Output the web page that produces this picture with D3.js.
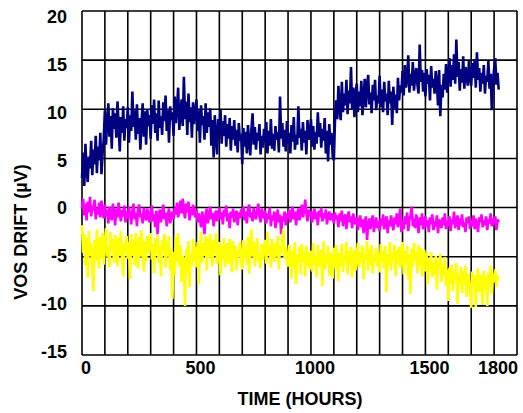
<!DOCTYPE html>
<html>
<head>
<meta charset="utf-8">
<script src="https://cdn.jsdelivr.net/npm/d3@7/dist/d3.min.js"></script>
<style>
    body { margin: 0; background: #fff; }
    svg text { font-family: "Liberation Sans", Arial, sans-serif; font-weight: bold; fill: #000; }
</style>
</head>
<body>
<svg id="chart" width="523" height="413"></svg>
<script>
// readings every 5 hours, 0 .. 1820 h (one row = 100 h)
const step = 5;

const unitA = [
    3.0, 5.6, 2.2, 6.5, 3.8, 2.6, 5.2, 4.0, 6.8, 3.3, 5.9, 4.4, 7.3, 3.5, 6.2, 4.8, 7.6, 3.4, 5.5, 7.0,
    9.9, 6.4, 8.8, 10.6, 7.2, 9.3, 6.0, 10.1, 8.0, 9.6, 7.1, 10.8, 8.4, 5.7, 9.2, 7.6, 10.3, 6.8, 9.0, 8.1,
    10.2, 6.6, 9.4, 7.8, 11.8, 8.2, 9.9, 6.9, 10.5, 7.5, 9.1, 5.9, 8.7, 10.6, 7.2, 9.8, 6.4, 10.0, 8.3, 9.4,
    7.0, 10.4, 8.5, 11.0, 7.6, 9.6, 6.8, 10.9, 8.1, 9.3, 7.4, 10.7, 8.8, 11.4, 7.8, 9.9, 6.6, 10.3, 8.9, 9.7,
    7.3, 11.3, 8.6, 10.1, 12.2, 7.9, 9.5, 11.0, 8.3, 13.3, 9.0, 10.8, 7.4, 11.6, 8.7, 10.2, 7.1, 10.7, 8.5, 9.8,
    11.0, 7.8, 9.9, 6.6, 10.4, 8.4, 9.3, 6.9, 10.6, 7.6, 9.7, 8.2, 10.1, 6.3, 8.9, 5.1, 9.4, 7.2, 5.4, 9.0,
    7.7, 10.0, 6.5, 8.8, 7.3, 9.4, 6.2, 8.5, 7.0, 9.1, 5.8, 8.3, 6.9, 8.9, 6.3, 7.9, 5.6, 8.6, 6.8, 7.5,
    4.4, 8.1, 6.2, 7.7, 5.5, 8.4, 6.7, 5.3, 7.9, 9.6, 6.4, 8.2, 5.9, 7.6, 6.8, 8.5, 5.4, 7.3, 6.1, 8.0,
    6.6, 8.7, 5.5, 7.8, 6.3, 9.0, 6.0, 7.5, 5.8, 8.3, 6.9, 7.7, 5.6, 11.3, 7.0, 8.6, 6.2, 7.9, 5.7, 8.8,
    6.5, 7.6, 5.5, 8.4, 6.7, 9.2, 5.9, 7.4, 6.4, 10.3, 7.1, 8.0, 5.8, 8.7, 6.6, 7.8, 5.4, 8.9, 6.9, 7.5,
    9.0, 6.2, 8.3, 5.9, 7.7, 6.5, 9.7, 7.2, 8.6, 6.1, 8.0, 6.8, 9.1, 5.5, 7.8, 4.7, 8.5, 6.4, 7.6, 5.2,
    4.8, 8.8, 10.9, 9.0, 12.4, 10.1, 8.9, 12.8, 9.7, 11.6, 10.4, 13.0, 9.5, 11.9, 10.6, 14.3, 10.0, 12.2, 9.2, 11.5,
    12.6, 9.7, 11.8, 10.3, 12.9, 9.4, 11.2, 13.1, 10.2, 12.3, 13.5, 10.5, 11.7, 9.6, 12.5, 10.9, 13.0, 9.9, 11.4, 10.6,
    13.4, 10.2, 12.0, 9.7, 12.8, 10.8, 11.6, 9.4, 12.9, 10.6, 11.8, 8.4, 12.3, 10.1, 11.5, 9.6, 13.2, 10.9, 12.4, 11.7,
    13.9, 11.4, 14.5, 12.2, 13.0, 15.5, 11.7, 13.6, 12.4, 14.8, 11.9, 13.3, 14.2, 12.5, 11.6, 16.6, 12.8, 14.0, 11.8, 13.7,
    11.3, 14.1, 12.6, 13.5, 10.9, 14.4, 12.2, 13.1, 11.6, 13.9, 12.8, 10.4, 14.0, 9.3, 12.5, 11.2, 13.6, 12.0, 14.6, 11.7,
    13.4, 15.2, 12.3, 14.5, 13.0, 15.6, 12.6, 17.1, 13.3, 14.8, 11.9, 14.1, 12.7, 15.4, 12.1, 14.3, 13.5, 12.4, 14.9, 13.1,
    12.4, 14.7, 13.2, 15.1, 12.2, 15.8, 13.0, 14.2, 11.8, 13.7, 12.6, 14.5, 11.6, 13.4, 12.8, 14.9, 12.1, 13.6, 9.9, 12.9,
    14.1, 15.2, 12.5, 13.7, 12.0
];

const unitB = [
    -0.1, 0.9, -0.8, 0.4, -1.3, 0.6, -0.5, 1.1, -0.9, 0.2, -0.3, 0.8, -1.2, 0.0, -0.7, 0.5, -1.0, 0.7, -0.4, -1.1,
    0.3, -0.9, -0.2, -1.6, 0.1, -0.7, -1.3, 0.4, -0.5, -1.8, -0.1, -1.0, 0.5, -0.6, -1.4, -0.2, -0.9, 0.2, -1.5, -0.4,
    -1.1, 0.1, -0.8, -1.7, -0.3, 0.4, -1.2, -0.5, -1.9, -0.2, 0.3, -1.0, -0.6, -1.6, 0.0, -0.8, -1.3, -0.1, -0.9, -1.5,
    -0.4, 0.2, -1.4, -0.7, -2.0, -0.3, -2.7, -0.9, -0.2, -1.5, -0.6, 0.3, -1.2, -0.5, -1.9, -0.8, -0.1, -1.6, -1.0, -0.4,
    -1.2, 0.0, -0.7, 0.5, -1.0, -0.2, 0.7, -0.6, 0.9, -0.3, -1.1, 0.4, -0.5, 0.6, -1.3, -0.1, -0.8, 0.3, -0.4, -1.0,
    -0.2, -1.5, -0.6, -1.1, -2.0, -0.4, -1.3, -2.7, -0.7, -0.1, -1.6, -0.8, 0.1, -1.2, -0.5, -1.9, -0.9, -0.3, -1.4, -0.6,
    0.0, -1.2, -0.5, -1.7, -0.2, -0.9, 0.2, -1.4, -0.6, -2.1, -0.4, -1.0, -0.1, -1.5, -0.7, -0.3, -1.8, -0.5, -1.1, -0.2,
    -0.9, 0.1, -1.3, -0.4, -1.6, -0.2, 0.3, -1.0, -0.5, -1.4, 0.0, -0.8, -1.2, -0.3, 0.4, -0.9, -1.5, -0.1, -0.7, -1.1,
    -0.3, -1.6, -0.6, -1.2, 0.0, -1.9, -0.8, -1.3, -0.4, -2.1, -1.0, -0.2, -1.5, -0.7, -2.7, -0.9, -1.4, -0.4, -1.8, -0.6,
    -1.1, -0.2, -1.5, -0.6, 0.1, -1.2, -0.4, -1.8, -0.7, -0.1, -1.3, -0.5, 0.3, -1.0, -0.3, 0.8, -0.6, -1.4, -0.2, -0.9,
    -0.4, -1.5, -0.7, -0.1, -1.2, -0.5, -1.8, -0.3, -1.0, 0.0, -1.4, -0.6, -1.1, -0.2, -1.7, -0.8, -0.4, -1.3, -0.6, -1.0,
    -1.6, -0.5, -1.2, -0.8, -2.0, -0.6, -1.4, -0.3, -1.9, -1.0, -0.7, -2.2, -1.1, -0.4, -1.5, -0.9, -2.1, -0.6, -1.3, -1.7,
    -1.0, -2.3, -1.4, -0.8, -2.0, -1.2, -2.6, -1.5, -0.9, -3.3, -1.7, -1.1, -2.2, -1.3, -0.8, -2.5, -1.6, -1.0, -2.1, -1.4,
    -2.4, -1.1, -1.8, -0.7, -2.2, -1.4, -0.9, -2.6, -1.3, -1.9, -0.8, -1.6, -2.3, -1.0, -1.7, -0.6, -2.0, -1.2, -0.1, -2.5,
    -1.3, -2.2, -0.9, -1.7, -0.5, -2.4, -1.2, -0.8, 0.1, -1.9, -1.1, -2.1, -0.7, -1.5, -2.6, -1.0, -1.8, -0.6, -2.2, -1.4,
    -0.9, -2.0, -1.3, -2.5, -1.0, -1.7, -0.7, -2.3, -1.4, -1.9, -0.8, -2.6, -1.2, -1.6, -2.1, -1.0, -1.8, -0.6, -2.2, -1.3,
    -1.9, -0.9, -2.4, -1.2, -1.7, -0.4, -2.1, -1.4, -0.8, -2.3, -1.1, -1.8, -0.7, -2.0, -1.5, -2.5, -1.0, -1.6, -0.9, -2.2,
    -1.3, -1.9, -0.8, -2.2, -1.1, -1.7, -2.5, -1.0, -1.5, -0.7, -2.0, -1.3, -1.8, -0.9, -2.3, -1.2, -1.6, -0.6, -1.9, -1.1,
    -1.7, -0.9, -2.3, -1.2, -1.5
];

const unitC = [
    -1.8, -4.6, -2.7, -5.9, -3.1, -7.1, -2.4, -4.9, -3.6, -6.3, -8.5, -3.3, -5.4, -2.2, -4.7, -6.2, -3.0, -5.1, -2.6, -5.8,
    -3.4, -2.1, -5.0, -3.9, -6.1, -2.5, -4.3, -3.2, -5.6, -2.8, -4.0, -6.0, -3.1, -4.9, -2.4, -5.3, -7.0, -3.6, -4.4, -2.9,
    -5.2, -3.5, -7.3, -2.7, -4.8, -3.3, -5.9, -2.6, -4.4, -6.2, -3.0, -5.0, -2.3, -4.1, -6.5, -3.4, -5.5, -2.9, -4.6, -3.8,
    -2.6, -5.3, -3.7, -6.7, -3.1, -4.8, -2.8, -5.6, -3.9, -7.0, -3.3, -4.5, -2.7, -6.1, -3.5, -5.0, -2.9, -6.4, -4.2, -9.3,
    -4.5, -6.8, -3.0, -5.5, -2.6, -6.0, -3.8, -7.6, -4.9, -5.8, -10.0, -4.2, -6.6, -3.4, -8.1, -4.7, -6.0, -3.2, -5.4, -4.0,
    -6.1, -3.5, -7.8, -4.4, -2.5, -5.6, -3.6, -4.9, -2.9, -6.4, -3.2, -5.1, -2.7, -4.5, -6.0, -3.3, -4.8, -2.6, -5.7, -4.1,
    -3.5, -6.9, -4.0, -5.3, -3.1, -6.1, -4.5, -3.6, -5.7, -3.2, -4.8, -6.6, -3.4, -5.2, -3.9, -6.4, -4.3, -5.0, -3.5, -5.6,
    -6.3, -3.3, -5.1, -4.2, -5.8, -3.0, -6.7, -4.0, -2.2, -5.0, -3.5, -6.0, -4.4, -3.1, -5.5, -4.6, -6.2, -3.7, -5.3, -4.1,
    -3.3, -5.7, -2.5, -4.8, -3.9, -6.1, -3.2, -4.6, -5.5, -3.6, -5.0, -2.9, -6.3, -3.8, -4.7, -3.1, -2.2, -5.2, -4.0, -5.6,
    -6.0, -3.8, -5.3, -7.2, -4.3, -6.1, -3.5, -7.8, -4.8, -5.6, -4.0, -6.8, -3.7, -5.5, -4.5, -7.0, -3.9, -5.9, -4.6, -6.3,
    -4.4, -6.5, -3.6, -5.8, -4.9, -7.1, -3.8, -6.0, -5.2, -4.3, -8.0, -3.4, -6.3, -4.8, -5.7, -3.9, -6.9, -4.6, -5.4, -7.2,
    -4.1, -6.2, -3.8, -5.5, -7.5, -4.6, -5.9, -3.7, -6.6, -4.9, -5.4, -3.5, -6.8, -4.4, -5.8, -4.0, -7.1, -5.1, -4.3, -6.4,
    -5.0, -3.6, -6.1, -4.5, -5.6, -3.9, -7.3, -4.7, -5.3, -3.4, -6.4, -4.2, -5.8, -3.8, -6.7, -4.9, -5.5, -4.1, -6.0, -4.6,
    -6.6, -3.7, -5.5, -4.4, -6.2, -3.9, -8.6, -4.8, -5.9, -3.5, -6.4, -4.6, -5.3, -3.8, -7.0, -4.3, -5.7, -4.0, -6.1, -4.7,
    -3.5, -6.8, -4.4, -5.7, -3.9, -7.3, -4.8, -8.8, -4.2, -6.0, -3.6, -5.4, -4.5, -6.7, -3.8, -5.9, -4.1, -7.0, -5.0, -4.3,
    -6.5, -4.6, -7.8, -5.3, -6.4, -4.5, -7.1, -5.6, -6.8, -4.9, -8.3, -5.4, -6.2, -4.7, -7.6, -5.8, -6.9, -5.0, -8.0, -6.3,
    -9.5, -6.1, -7.8, -5.8, -8.5, -6.6, -7.3, -5.6, -9.8, -6.9, -7.6, -6.0, -8.7, -6.4, -7.9, -5.9, -9.1, -6.7, -7.4, -8.4,
    -10.2, -6.5, -8.0, -6.9, -10.1, -7.3, -6.2, -8.6, -6.8, -7.7, -9.9, -6.4, -8.3, -7.0, -10.0, -6.6, -7.9, -5.9, -8.8, -6.7,
    -7.6, -6.3, -8.1, -6.9, -7.3
];

const xTickLabels = [0, 500, 1000, 1500, 1800];
const yTickLabels = [20, 15, 10, 5, 0, -5, -10, -15];
const xGrid = d3.range(0, 1901, 100);

const svg = d3.select("#chart");
const margin = { top: 11, right: 6, bottom: 58, left: 82 };
const width = +svg.attr("width") - margin.left - margin.right;
const height = +svg.attr("height") - margin.top - margin.bottom;

const x = d3.scaleLinear().domain([0, 1900]).range([0, width]);
const y = d3.scaleLinear().domain([-15, 20]).range([height, 0]);
// the labels of the original sit a little off the grid lines
const yLab = d3.scaleLinear().domain([-15, 20]).range([height - 3.5, 5.7]);

const g = svg.append("g")
    .attr("transform", "translate(" + margin.left + "," + margin.top + ")");

// grid
g.selectAll(".vgrid")
    .data(xGrid)
    .enter().append("line")
    .attr("class", "vgrid")
    .attr("x1", d => x(d)).attr("x2", d => x(d))
    .attr("y1", 0).attr("y2", height)
    .attr("stroke", "#000").attr("stroke-width", 1.6);

g.selectAll(".hgrid")
    .data(yTickLabels)
    .enter().append("line")
    .attr("class", "hgrid")
    .attr("x1", 0).attr("x2", width)
    .attr("y1", d => y(d)).attr("y2", d => y(d))
    .attr("stroke", "#000").attr("stroke-width", 1.6);

// series
const line = d3.line()
    .x((d, i) => x(i * step))
    .y(d => y(d));

const series = [
    { values: unitA, color: "#000080" },
    { values: unitB, color: "#ff00ff" },
    { values: unitC, color: "#ffff00" }
];

g.selectAll(".series")
    .data(series)
    .enter().append("path")
    .attr("class", "series")
    .attr("d", d => line(d.values))
    .attr("fill", "none")
    .attr("stroke", d => d.color)
    .attr("stroke-width", 2.6)
    .attr("stroke-linejoin", "miter")
    .attr("stroke-miterlimit", 2);

// tick labels
g.selectAll(".xlab")
    .data(xTickLabels)
    .enter().append("text")
    .attr("class", "xlab")
    .attr("x", d => x(d) + 4)
    .attr("y", height + 19)
    .attr("text-anchor", "middle")
    .style("font-size", "18px")
    .text(d => d);

g.selectAll(".ylab")
    .data(yTickLabels)
    .enter().append("text")
    .attr("class", "ylab")
    .attr("x", -15)
    .attr("y", d => yLab(d))
    .attr("dy", "0.36em")
    .attr("text-anchor", "end")
    .style("font-size", "18px")
    .text(d => d);

// axis titles
svg.append("text")
    .attr("x", 300)
    .attr("y", 405)
    .attr("text-anchor", "middle")
    .style("font-size", "18px")
    .text("TIME (HOURS)");

svg.append("text")
    .attr("transform", "translate(27,232) rotate(-90)")
    .attr("text-anchor", "middle")
    .style("font-size", "18px")
    .text("VOS DRIFT (µV)");
</script>
</body>
</html>
